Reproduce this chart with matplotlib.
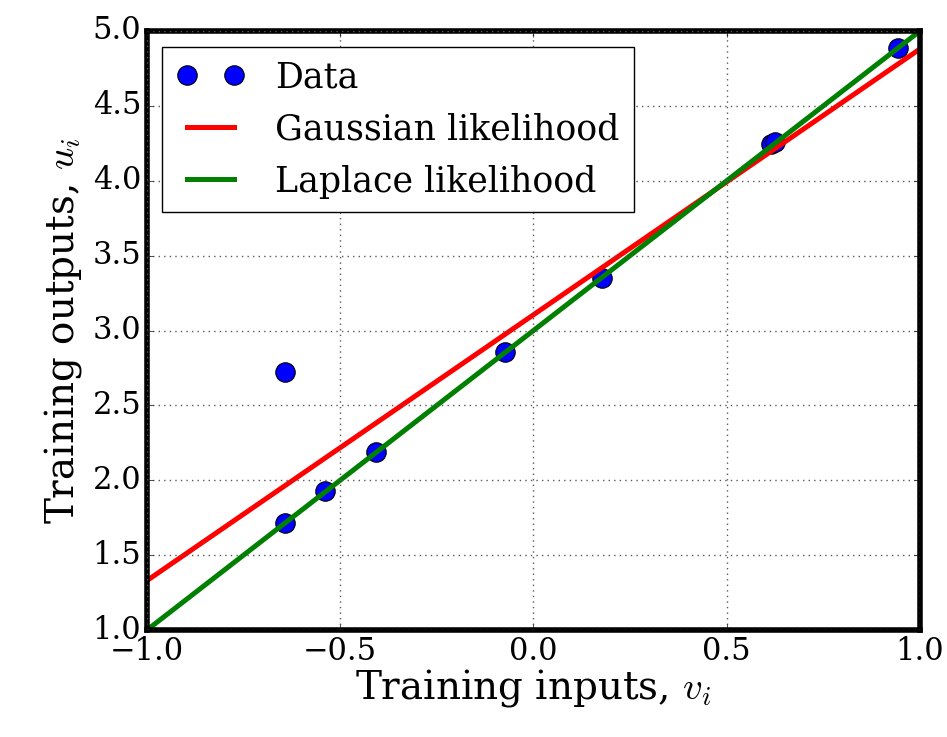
import matplotlib
matplotlib.use("Agg")
import matplotlib.pyplot as plt
import numpy as np

# data points
v_data = [-0.643, -0.643, -0.539, -0.408, -0.074, 0.177, 0.615, 0.625, 0.943]
u_data = [2.723, 1.715, 1.928, 2.189, 2.856, 3.351, 4.245, 4.26, 4.886]

# fitted lines, endpoints at v=-1 and v=1
v_fit = [-1.0, 1.0]
u_gauss = [1.33, 4.88]
u_laplace = [1.0, 5.0]

plt.style.use("classic")
plt.rcParams["font.family"] = "DejaVu Serif"
plt.rcParams["mathtext.fontset"] = "cm"

fig = plt.figure(figsize=(9.47, 7.37), dpi=100, facecolor="white")
ax = fig.add_axes([0.155, 0.145, 0.8165, 0.813])

ax.plot(v_data, u_data, "o", color="blue", markersize=14, markeredgecolor="black",
        markeredgewidth=0.8, label="Data")
ax.plot(v_fit, u_gauss, "-", color="red", lw=3.6, label="Gaussian likelihood")
ax.plot(v_fit, u_laplace, "-", color="green", lw=3.6, label="Laplace likelihood")

ax.set_xlim(-1, 1)
ax.set_ylim(1, 5)
ax.set_xticks(np.arange(-1.0, 1.01, 0.5))
ax.set_yticks(np.arange(1.0, 5.01, 0.5))
ax.grid(True, ls=":", color="0.35", lw=1.0)
for s in ax.spines.values():
    s.set_linewidth(4)
ax.tick_params(labelsize=22, pad=4)

ax.set_xlabel(r"Training inputs, $v_i$", fontsize=28, labelpad=0)
ax.set_ylabel(r"Training outputs, $u_i$", fontsize=28, labelpad=6)

leg = ax.legend(loc="upper left", fontsize=25, numpoints=2, fancybox=False,
                borderpad=0.4, handlelength=1.95, handletextpad=0.9,
                labelspacing=0.52, borderaxespad=0.45)
leg.get_frame().set_linewidth(1.0)

fig.savefig("out.png", dpi=100, facecolor="white")
